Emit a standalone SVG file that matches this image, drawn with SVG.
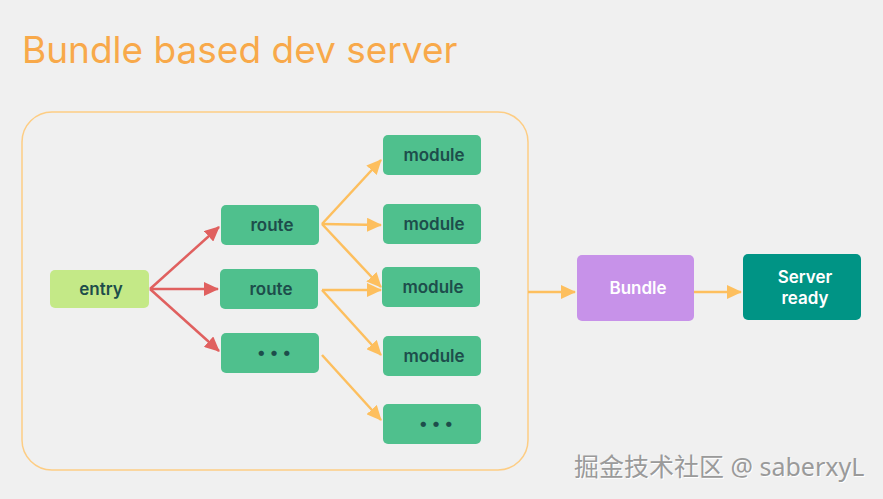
<svg xmlns="http://www.w3.org/2000/svg" width="883" height="499" viewBox="0 0 883 499">
<defs>
<style>
.node rect{rx:5;ry:5}
.g rect{fill:#4fc08d}
.lbl{font-family:Inter,"Noto Sans",sans-serif;font-weight:600;font-size:17px;fill:#1d4d4b;text-anchor:middle;dominant-baseline:central}
.w{fill:#ffffff}
.red{stroke:#e0605f;stroke-width:2.5;fill:none;marker-end:url(#ar)}
.org{stroke:#fdbf5e;stroke-width:2.5;fill:none;marker-end:url(#ao)}
</style>
<marker id="ar" markerUnits="userSpaceOnUse" markerWidth="16" markerHeight="14" refX="14" refY="7" orient="auto"><path d="M0,0 L15,7 L0,14 Z" fill="#e0605f"/></marker>
<marker id="ao" markerUnits="userSpaceOnUse" markerWidth="16" markerHeight="14" refX="14" refY="7" orient="auto"><path d="M0,0 L15,7 L0,14 Z" fill="#fdbf5e"/></marker>
</defs>
<rect width="883" height="499" fill="#f0f0f0"/>
<text x="22" y="63" font-family="Inter,'Noto Sans',sans-serif" font-size="37" fill="#f8a94a">Bundle based dev server</text>
<rect x="22" y="112" width="506" height="358" rx="30" fill="none" stroke="#fdcd84" stroke-width="1.5"/>
<g id="connectors">
<path class="red" d="M150,289 L219,227"/>
<path class="red" d="M150,289 L218,289"/>
<path class="red" d="M150,289 L219,351"/>
<path class="org" d="M322,224 L381,160"/>
<path class="org" d="M322,224 L381,225"/>
<path class="org" d="M322,224 L381,287"/>
<path class="org" d="M322,290 L381,290"/>
<path class="org" d="M322,290 L381,355"/>
<path class="org" d="M322,355 L381,420"/>
<path class="org" d="M528,292 L575,292"/>
<path class="org" d="M694,292 L741,292"/>
</g>
<g id="entry" class="node"><rect x="50" y="270" width="99" height="38" fill="#c4e987"/><text class="lbl" x="101" y="289">entry</text></g>
<g id="route1" class="node g"><rect x="221" y="205" width="98" height="40"/><text class="lbl" x="272" y="225">route</text></g>
<g id="route2" class="node g"><rect x="220" y="269" width="98" height="40"/><text class="lbl" x="271" y="289">route</text></g>
<g id="route3" class="node g"><rect x="221" y="333" width="98" height="40"/><text class="lbl" x="274" y="352">• • •</text></g>
<g id="module1" class="node g"><rect x="383" y="135" width="98" height="40"/><text class="lbl" x="434" y="155">module</text></g>
<g id="module2" class="node g"><rect x="383" y="204" width="98" height="40"/><text class="lbl" x="434" y="224">module</text></g>
<g id="module3" class="node g"><rect x="382" y="267" width="98" height="40"/><text class="lbl" x="433" y="287">module</text></g>
<g id="module4" class="node g"><rect x="383" y="336" width="98" height="40"/><text class="lbl" x="434" y="356">module</text></g>
<g id="module5" class="node g"><rect x="383" y="404" width="98" height="40"/><text class="lbl" x="436" y="423">• • •</text></g>
<g id="bundle" class="node"><rect x="577" y="255" width="117" height="66" fill="#c792e9"/><text class="lbl w" x="638" y="288">Bundle</text></g>
<g id="server" class="node"><rect x="743" y="254" width="118" height="66" fill="#009485"/><text class="lbl w" x="805" y="277">Server</text><text class="lbl w" x="805" y="298">ready</text></g>
<g font-family="'Noto Sans','Noto Sans CJK SC',sans-serif" font-size="25">
<text x="575" y="477" fill="#ffffff">掘金技术社区 @ saberxyL</text>
<text x="574" y="476" fill="#9a9a9a">掘金技术社区 @ saberxyL</text>
</g>
</svg>
